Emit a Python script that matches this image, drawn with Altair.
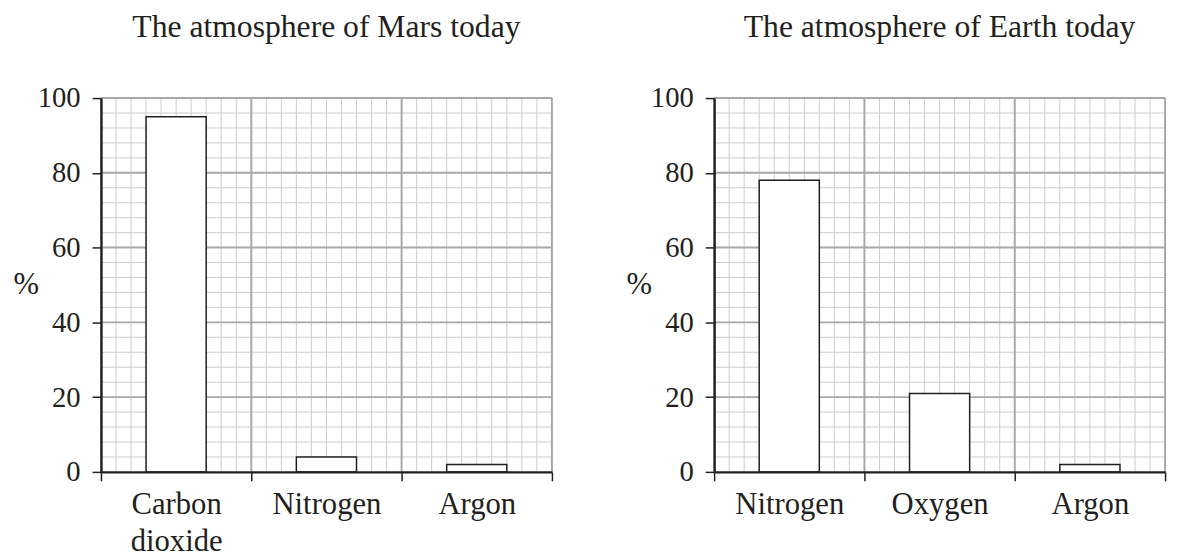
import json
import numpy as np
import pandas as pd
import altair as alt

# ---- data ----
mars_title = "The atmosphere of Mars today"
mars_gases = ["Carbon dioxide", "Nitrogen", "Argon"]
mars_pct = [95, 4, 2]

earth_title = "The atmosphere of Earth today"
earth_gases = ["Nitrogen", "Oxygen", "Argon"]
earth_pct = [78, 21, 2]

y_ticks = [0, 20, 40, 60, 80, 100]

FONT = "Liberation Serif"
INK = "#231f20"
W, H = 456, 378


def label_expr(names):
    parts = []
    for i, n in enumerate(names):
        parts.append(f"abs(datum.value - {i + 0.5}) < 0.01 ? {json.dumps(n.split(' '))}")
    return " : ".join(parts) + " : ''"


def panel(gases, pct, title):
    n = len(gases)
    df = pd.DataFrame({"gas": gases, "pct": pct, "idx": list(range(n))})
    xs = alt.Scale(domain=[0, n], nice=False, zero=True)
    ys = alt.Scale(domain=[0, 100], nice=False)

    x_axis = alt.Axis(
        values=[i * 0.5 for i in range(2 * n + 1)],
        labelExpr=label_expr(gases),
        labelOverlap=False, labelFlush=False, labelBound=False,
        labelFont=FONT, labelFontSize=31, labelColor=INK, labelPadding=18,
        labelLineHeight=37, labelBaseline="top",
        tickSize={"condition": {"test": "abs(datum.value - round(datum.value)) < 0.01", "value": 9}, "value": 0},
        tickColor=INK, tickWidth=1.5,
        domainColor=INK, domainWidth=2.5,
        grid=False, title=None, zindex=1,
    )
    y_axis = alt.Axis(
        values=y_ticks,
        labelFont=FONT, labelFontSize=29, labelColor=INK, labelPadding=12,
        tickSize=9, tickColor=INK, tickWidth=1.5,
        domainColor=INK, domainWidth=2.5,
        grid=False, zindex=1,
        title="%", titleFont=FONT, titleFontSize=31, titleFontWeight="normal", titleColor=INK,
        titleAngle=0, titleAlign="left", titleBaseline="middle", titleX=-89, titleY=H / 2,
    )

    minor_x = [round(v, 2) for v in np.arange(0, n + 0.001, 0.1) if abs(v - round(v)) > 0.01]
    major_x = list(range(1, n + 1))
    minor_y = [v for v in range(0, 101, 4) if v % 20 != 0]
    major_y = [v for v in range(20, 101, 20)]

    minor_v = alt.Chart(pd.DataFrame({"v": minor_x})).mark_rule(color="#cccccc", strokeWidth=1).encode(
        x=alt.X("v:Q", scale=xs, axis=x_axis))
    minor_h = alt.Chart(pd.DataFrame({"v": minor_y})).mark_rule(color="#cccccc", strokeWidth=1).encode(
        y=alt.Y("v:Q", scale=ys, axis=y_axis))
    major_v = alt.Chart(pd.DataFrame({"v": major_x})).mark_rule(color="#a8a8a8", strokeWidth=2).encode(
        x=alt.X("v:Q", scale=xs, axis=x_axis))
    major_h = alt.Chart(pd.DataFrame({"v": major_y})).mark_rule(color="#a8a8a8", strokeWidth=2).encode(
        y=alt.Y("v:Q", scale=ys, axis=y_axis))

    bars = alt.Chart(df).transform_calculate(
        x0="datum.idx + 0.3", x1="datum.idx + 0.7", base="0"
    ).mark_bar(fill="white", stroke=INK, strokeWidth=1.5).encode(
        x=alt.X("x0:Q", scale=xs, axis=x_axis),
        x2="x1:Q",
        y=alt.Y("pct:Q", scale=ys, axis=y_axis),
        y2="base:Q",
    )

    return alt.layer(minor_v, minor_h, major_v, major_h, bars).properties(
        width=W, height=H,
        title=alt.TitleParams(title, font=FONT, fontSize=32, fontWeight="normal", color=INK,
                              anchor="middle", frame="group", offset=41),
    )


chart = alt.hconcat(
    panel(mars_gases, mars_pct, mars_title),
    panel(earth_gases, earth_pct, earth_title),
    spacing=74,
).properties(padding={"left": 5, "top": 0, "right": 5, "bottom": 0}).configure_view(stroke=None)

chart.save("out.html", embed_options={"renderer": "svg", "actions": False})
